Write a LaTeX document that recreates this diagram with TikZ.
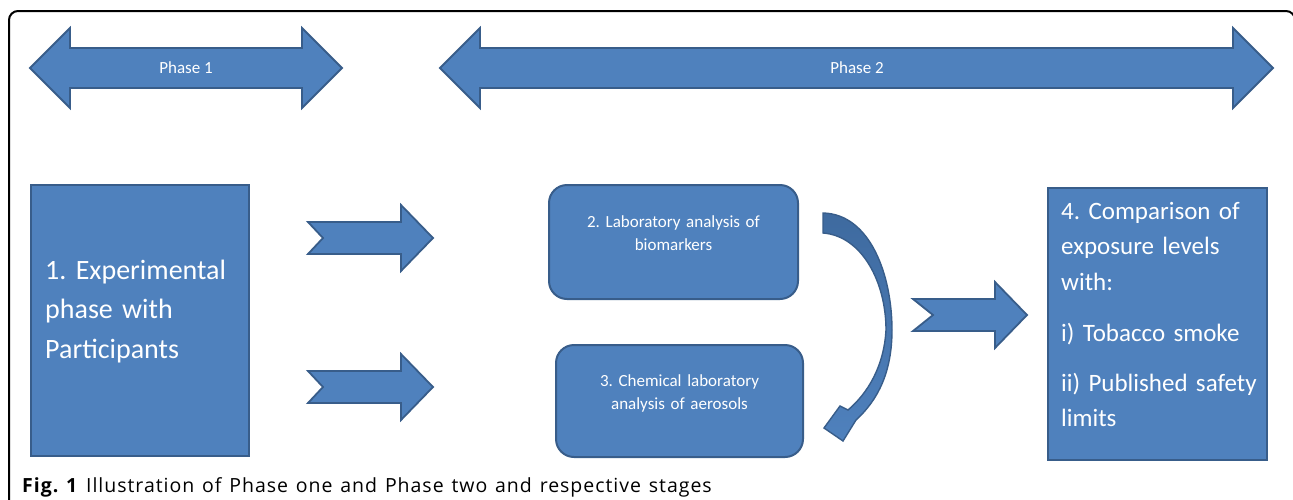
\documentclass[tikz,border=0pt]{standalone}
\usepackage{fontspec}
\setmainfont{Carlito}
\newfontfamily\capfont[LetterSpace=5, WordSpace=1.3]{Open Sans}
\frenchspacing
\usepackage{tikz}
\usetikzlibrary{
	positioning
}
\definecolor{blockfill}{HTML}{4F81BD}
\definecolor{blockline}{HTML}{385D8A}
\definecolor{bendtop}{HTML}{3E6A9F}
\tikzset{
	stage/.style={
		draw=blockline, fill=blockfill, line width=2pt,
		anchor=north west, inner sep=0pt
	},
	roundstage/.style={
		stage, rounded corners=18pt
	},
	stagetext/.style={
		text=white, inner sep=0pt
	},
	blockarrow/.style={
		fill=blockfill, draw=blockline, line width=1.8pt, line join=miter
	},
	pics/phasearrow/.style={
		code={
			\path[blockarrow]
				(0,0) -- (40,-40) -- (40,-20) -- (#1-40,-20) -- (#1-40,-40)
				-- (#1,0) -- (#1-40,40) -- (#1-40,20) -- (40,20) -- (40,40) -- cycle;
		}
	},
	pics/flowarrow/.style 2 args={
		code={
			\path[blockarrow]
				(0,-16) -- (#1-32,-16) -- (#1-32,-33) -- (#1,0)
				-- (#1-32,33) -- (#1-32,16) -- (0,16) -- (#2,0) -- cycle;
		}
	}
}

\begin{document}
\begin{tikzpicture}[x=1pt, y=-1pt]
		\useasboundingbox (0,0) rectangle (1293,499);

		% frame
		\draw[line width=2pt, rounded corners=9pt] (9,510) -- (9,11) -- (1295,11) -- (1295,510);

		% phases
		\pic (phaseA) at (30,68)  {phasearrow=312};
		\pic (phaseB) at (440,68) {phasearrow=833};
		\node[stagetext, font=\fontsize{17}{20}\selectfont, anchor=base] (phase1) at (186,73) {Phase 1};
		\node[stagetext, font=\fontsize{17}{20}\selectfont, anchor=base] (phase2) at (857,73) {Phase 2};

		% stages
		\node[stage, minimum width=218, minimum height=271]           (exp)  at (30,184)   {};
		\node[roundstage, minimum width=249, minimum height=114]      (bio)  at (548,184)  {};
		\node[roundstage, minimum width=247, minimum height=112]      (chem) at (555,344)  {};
		\node[stage, minimum width=219, minimum height=272]           (comp) at (1047,187) {};

		\node[stagetext, text width=200, align=left, anchor=base west,
			font=\fontsize{28}{39.5}\selectfont]
			(exptext) at ([xshift=15pt, yshift=-95pt]exp.north west)
			{1. Experimental\\phase with\\Participants};
		\node[stagetext, text width=240, align=center, anchor=base,
			font=\fontsize{17}{23.5}\selectfont]
			(biotext) at ([yshift=-43pt]bio.north)
			{2. Laboratory analysis of\\biomarkers};
		\node[stagetext, text width=240, align=center, anchor=base,
			font=\fontsize{17}{23.5}\selectfont]
			(chemtext) at ([yshift=-42pt]chem.north)
			{3. Chemical laboratory\\analysis of aerosols};
		\node[stagetext, text width=205, align=left, anchor=base west,
			font=\fontsize{25}{35.5}\selectfont]
			(comptext) at ([xshift=14pt, yshift=-32pt]comp.north west)
			{4. Comparison of\\exposure levels\\with:\\[15.5pt]i) Tobacco smoke\\[14.5pt]ii) Published safety\\limits};

		% block arrows
		\pic (toBio)  at (308,238) {flowarrow={125}{15}};
		\pic (toChem) at (308,387) {flowarrow={125}{15}};
		\pic (toComp) at (913,315) {flowarrow={114}{20}};

		% curved arrow from biomarkers to aerosols
		\path[top color=bendtop, bottom color=blockfill, draw=blockline, line width=1.4pt, line join=miter]
			(823,213) .. controls (870,214) and (892,275) .. (892,330)
			.. controls (892,372) and (878,400) .. (856,420)
			-- (843,441) -- (824,428) -- (840,406) -- (848,410)
			.. controls (868,393) and (884,366) .. (886,330)
			.. controls (886,282) and (862,236) .. (823,233) -- cycle;

		% caption
		\node[anchor=base west, inner sep=0pt, font=\capfont\fontsize{19.5}{21}\selectfont]
			(caption) at (22,492)
			{\textbf{Fig. 1} Illustration of Phase one and Phase two and respective stages};
	\end{tikzpicture}
\end{document}
